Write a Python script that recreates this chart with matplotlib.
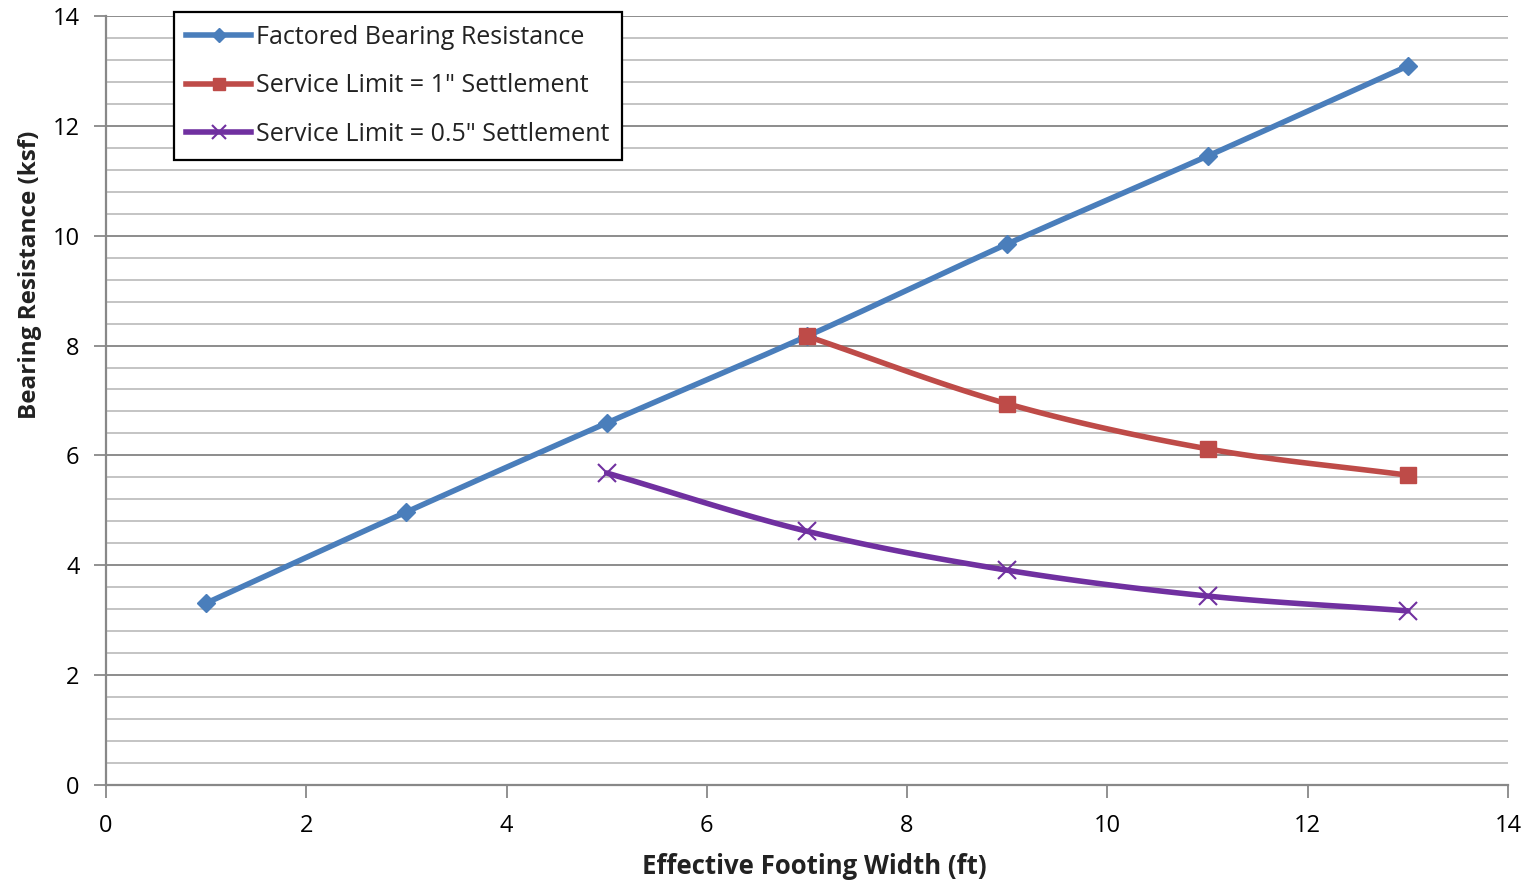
import numpy as np
import matplotlib
matplotlib.use("Agg")
import matplotlib.pyplot as plt
from matplotlib.lines import Line2D

# ---- data ----
x_fbr = [1, 3, 5, 7, 9, 11, 13]
y_fbr = [3.31, 4.97, 6.59, 8.17, 9.85, 11.45, 13.09]
x_sl1 = [7, 9, 11, 13]
y_sl1 = [8.17, 6.94, 6.12, 5.64]
x_sl05 = [5, 7, 9, 11, 13]
y_sl05 = [5.68, 4.62, 3.91, 3.44, 3.17]
labels = ["Factored Bearing Resistance",
          "Service Limit = 1\" Settlement",
          "Service Limit = 0.5\" Settlement"]
x_label = "Effective Footing Width (ft)"
y_label = "Bearing Resistance (ksf)"

plt.rcParams['font.family'] = ['Open Sans', 'DejaVu Sans']


def smooth(xs, ys, n=30):
    """Catmull-Rom style smoothing (like Excel smoothed lines) for drawing."""
    xs = np.asarray(xs, float)
    ys = np.asarray(ys, float)
    px = np.concatenate([[2 * xs[0] - xs[1]], xs, [2 * xs[-1] - xs[-2]]])
    py = np.concatenate([[2 * ys[0] - ys[1]], ys, [2 * ys[-1] - ys[-2]]])
    ox, oy = [], []
    t = np.linspace(0, 1, n)
    for i in range(1, len(px) - 2):
        for P, out in ((px, ox), (py, oy)):
            p0, p1, p2, p3 = P[i - 1], P[i], P[i + 1], P[i + 2]
            seg = 0.5 * ((2 * p1) + (-p0 + p2) * t +
                         (2 * p0 - 5 * p1 + 4 * p2 - p3) * t ** 2 +
                         (-p0 + 3 * p1 - 3 * p2 + p3) * t ** 3)
            out.extend(seg if i == 1 else seg[1:])
    return np.array(ox), np.array(oy)


fig = plt.figure(figsize=(15.33, 8.83), dpi=100)
ax = fig.add_axes([0.0691, 0.111, 0.9146, 0.8709])

c_blue = '#4a7ebb'
c_red = '#be4b48'
c_purple = '#7030a0'

series = [
    (x_fbr, y_fbr, c_blue, 'D', 9, labels[0]),
    (x_sl1, y_sl1, c_red, 's', 12, labels[1]),
    (x_sl05, y_sl05, c_purple, 'x', 13, labels[2]),
]
handles = []
for xs, ys, col, mk, ms, lab in series:
    sx, sy = smooth(xs, ys)
    ax.plot(sx, sy, color=col, lw=4, solid_capstyle='round', zorder=3)
    if mk == 'x':
        ax.plot(xs, ys, ls='none', marker=mk, ms=ms, mew=1.5, color=col, zorder=4)
    else:
        ax.plot(xs, ys, ls='none', marker=mk, ms=ms, color=col, mec=col, zorder=4)
    handles.append(Line2D([0], [0], color=col, lw=4, marker=mk,
                          ms=ms * 0.75, mew=1.5 if mk == 'x' else 1, mec=col))

ax.set_xlim(0, 14)
ax.set_ylim(0, 14)
ax.set_xticks(np.arange(0, 15, 2))
ax.set_yticks(np.arange(0, 15, 2))
ax.set_yticks(np.arange(0, 14.01, 0.4), minor=True)
ax.tick_params(axis='y', which='minor', length=0)
ax.tick_params(axis='both', which='major', labelsize=17,
               length=9, width=1.3, color='#888888', labelcolor='black')
ax.tick_params(axis='x', pad=12)
ax.tick_params(axis='y', pad=10)
ax.grid(axis='y', which='major', color='#8c8c8c', lw=1.4)
ax.grid(axis='y', which='minor', color='#c4c4c4', lw=1.4)
ax.set_axisbelow(True)
for s in ['top', 'right']:
    ax.spines[s].set_visible(False)
for s in ['left', 'bottom']:
    ax.spines[s].set_color('#888888')
    ax.spines[s].set_linewidth(1.6)

ax.set_xlabel(x_label, fontsize=18.5, fontweight='bold', color='#222222')
ax.xaxis.set_label_coords(0.505, -0.088)
ax.set_ylabel(y_label, fontsize=17.5, fontweight='bold', color='#222222')
ax.yaxis.set_label_coords(-0.0456, 0.664)

leg = ax.legend(handles, labels, loc='upper left', bbox_to_anchor=(0.0485, 1.005),
                borderaxespad=0, fancybox=False, edgecolor='black', framealpha=1,
                fontsize=18, handlelength=2.6, handletextpad=0.2,
                labelspacing=0.95, borderpad=0.5)
leg.get_frame().set_linewidth(1.6)
for t in leg.get_texts():
    t.set_color('#222222')

fig.savefig('out.png', dpi=100)
